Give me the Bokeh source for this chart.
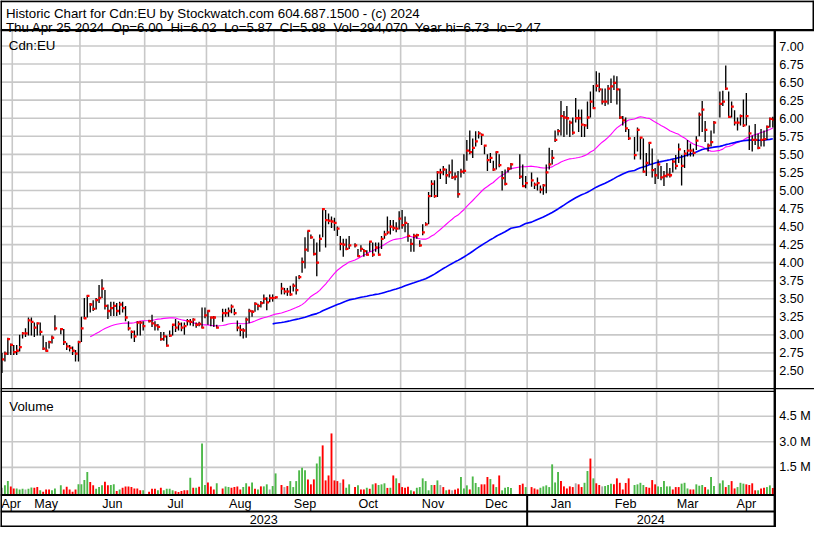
import numpy as np
import pandas as pd
from bokeh.plotting import figure
from bokeh.models import Range1d
from bokeh.embed import file_html
from bokeh.resources import INLINE
from bokeh.core.properties import value

# ---------------- data ----------------
FIRST_DAY = "2023-04-25"
LAST_DAY = "2024-04-25"
HOLIDAYS = ["2023-05-22", "2023-07-03", "2023-08-07", "2023-09-04", "2023-10-09",
            "2023-12-25", "2023-12-26", "2024-01-01", "2024-02-19", "2024-03-29"]

close = [
    2.66, 2.74, 2.94, 2.86,
    2.76, 2.78, 2.83, 3.02, 3.02, 3.20, 3.18, 3.10, 3.16, 3.04, 2.81, 2.78, 2.90, 2.96, 3.09, 3.08, 2.90, 2.84, 2.82, 2.78, 2.74, 2.90,
    3.09, 3.23, 3.54, 3.42, 3.36, 3.48, 3.51, 3.64, 3.40, 3.33, 3.37, 3.40, 3.33, 3.42, 3.37, 3.24, 3.09, 3.04, 2.98, 3.17, 3.17, 3.12,
    3.19, 3.16, 3.13, 3.11, 2.94, 2.98, 2.85, 2.99, 3.14, 3.10, 3.15, 3.10, 3.12, 3.19, 3.18, 3.21, 3.14, 3.15, 3.10, 3.27,
    3.33, 3.24, 3.24, 3.10, 3.30, 3.30, 3.33, 3.39, 3.30, 3.10, 3.07, 3.06, 3.21, 3.33, 3.32, 3.43, 3.40, 3.44, 3.50, 3.45, 3.51, 3.51,
    3.52, 3.64, 3.60, 3.60, 3.56, 3.68, 3.62, 3.80, 4.01, 4.18, 4.44, 4.35, 4.12, 4.00, 4.33, 4.74, 4.59, 4.58, 4.57, 4.55,
    4.47, 4.26, 4.25, 4.19, 4.24, 4.24, 4.09, 4.19, 4.16, 4.11, 4.29, 4.11, 4.21, 4.11, 4.33, 4.39, 4.42, 4.50, 4.48, 4.47, 4.61,
    4.52, 4.55, 4.37, 4.26, 4.37, 4.38, 4.24, 4.42, 4.53, 4.92, 5.09, 4.92, 5.25, 5.25, 5.29, 5.21, 5.25, 5.18, 5.19, 4.95, 5.26, 5.27,
    5.55, 5.53, 5.59, 5.68, 5.79, 5.77, 5.62, 5.42, 5.45, 5.29, 5.53, 5.35, 5.17, 5.09, 5.30, 5.36, 5.19, 5.06, 5.10,
    5.14, 5.08, 5.10, 5.01, 5.07, 5.25, 5.36, 5.45, 5.70, 5.82, 6.03, 6.01, 6.00, 5.94, 5.80, 6.00, 6.00, 5.91, 5.90, 6.01, 6.23, 6.14,
    6.45, 6.40, 6.23, 6.23, 6.41, 6.44, 6.49, 6.40, 6.01, 5.97, 5.86, 5.72, 5.49, 5.84, 5.73, 5.26, 5.38, 5.66, 5.28, 5.21,
    5.36, 5.18, 5.20, 5.22, 5.21, 5.40, 5.34, 5.57, 5.34, 5.51, 5.55, 5.55, 5.52, 5.69, 6.05, 6.12, 5.84, 5.62, 5.67, 5.94,
    6.20, 6.23, 6.41, 6.02, 6.16, 5.94, 5.94, 6.03, 5.90, 6.03, 5.79, 5.70, 5.70, 5.59, 5.70, 5.71, 5.88, 5.99, 5.98,
]
high = [
    2.75, 2.77, 2.96, 2.88,
    2.86, 2.86, 3.00, 3.04, 3.09, 3.24, 3.24, 3.17, 3.17, 3.17, 2.99, 2.90, 2.92, 2.99, 3.27, 3.09, 3.08, 2.89, 2.86, 2.84, 2.79, 2.92,
    3.25, 3.51, 3.55, 3.44, 3.48, 3.51, 3.69, 3.77, 3.62, 3.42, 3.46, 3.46, 3.44, 3.46, 3.46, 3.40, 3.19, 3.06, 3.06, 3.19, 3.19, 3.19,
    3.21, 3.28, 3.19, 3.15, 3.04, 3.04, 2.99, 3.06, 3.15, 3.22, 3.19, 3.17, 3.17, 3.22, 3.22, 3.23, 3.17, 3.18, 3.38, 3.38,
    3.34, 3.25, 3.26, 3.14, 3.36, 3.36, 3.38, 3.42, 3.36, 3.20, 3.14, 3.09, 3.24, 3.36, 3.34, 3.45, 3.43, 3.47, 3.56, 3.52, 3.56, 3.56,
    3.53, 3.72, 3.65, 3.65, 3.68, 3.71, 3.81, 3.83, 4.07, 4.35, 4.44, 4.39, 4.33, 4.28, 4.39, 4.75, 4.73, 4.68, 4.64, 4.62,
    4.50, 4.37, 4.33, 4.33, 4.37, 4.27, 4.19, 4.24, 4.19, 4.17, 4.30, 4.28, 4.28, 4.28, 4.37, 4.44, 4.64, 4.59, 4.59, 4.56, 4.71,
    4.73, 4.64, 4.55, 4.33, 4.40, 4.40, 4.31, 4.53, 4.56, 4.98, 5.14, 5.14, 5.27, 5.30, 5.34, 5.30, 5.36, 5.43, 5.25, 5.27, 5.30, 5.50,
    5.70, 5.83, 5.72, 5.82, 5.82, 5.79, 5.63, 5.50, 5.52, 5.41, 5.54, 5.50, 5.27, 5.29, 5.32, 5.38, 5.50, 5.36, 5.20,
    5.25, 5.11, 5.18, 5.07, 5.09, 5.36, 5.59, 5.56, 5.83, 5.85, 6.24, 6.10, 6.17, 5.97, 6.01, 6.28, 6.12, 6.12, 5.92, 6.23, 6.37, 6.46,
    6.65, 6.63, 6.41, 6.41, 6.46, 6.55, 6.59, 6.58, 6.41, 6.03, 6.01, 5.85, 5.74, 5.87, 5.74, 5.72, 5.52, 5.67, 5.58, 5.31,
    5.43, 5.34, 5.27, 5.38, 5.31, 5.43, 5.49, 5.65, 5.49, 5.56, 5.70, 5.65, 5.58, 5.75, 6.08, 6.24, 5.96, 5.65, 5.83, 5.96,
    6.37, 6.38, 6.73, 6.37, 6.23, 6.11, 6.01, 6.05, 6.26, 6.35, 5.90, 5.76, 5.92, 5.79, 5.85, 5.83, 5.90, 6.01, 6.02,
]
low = [
    2.47, 2.63, 2.72, 2.72,
    2.72, 2.72, 2.77, 2.95, 2.97, 2.99, 2.99, 2.97, 2.99, 2.99, 2.79, 2.77, 2.81, 2.88, 3.06, 3.01, 2.86, 2.79, 2.77, 2.72, 2.63, 2.63,
    2.90, 3.22, 3.24, 3.31, 3.33, 3.35, 3.44, 3.51, 3.35, 3.22, 3.26, 3.26, 3.26, 3.28, 3.31, 3.19, 3.06, 2.95, 2.90, 2.99, 2.99, 3.06,
    3.17, 3.11, 3.06, 3.06, 2.92, 2.92, 2.84, 2.97, 2.99, 3.04, 3.06, 3.05, 3.00, 3.13, 3.13, 3.12, 3.10, 3.12, 3.09, 3.23,
    3.14, 3.12, 3.11, 3.09, 3.18, 3.25, 3.25, 3.30, 3.27, 3.05, 2.98, 2.95, 2.96, 3.16, 3.25, 3.32, 3.34, 3.38, 3.43, 3.34, 3.45, 3.46,
    3.50, 3.56, 3.56, 3.54, 3.54, 3.60, 3.56, 3.77, 3.86, 3.92, 4.15, 4.33, 4.10, 3.81, 4.15, 4.35, 4.21, 4.53, 4.48, 4.44,
    4.37, 4.17, 4.08, 4.17, 4.19, 4.21, 4.08, 4.15, 4.08, 4.10, 4.15, 4.08, 4.15, 4.10, 4.19, 4.33, 4.39, 4.39, 4.44, 4.42, 4.46,
    4.47, 4.42, 4.29, 4.15, 4.15, 4.33, 4.22, 4.38, 4.51, 4.53, 4.91, 4.90, 4.91, 5.16, 5.21, 5.09, 5.18, 5.16, 5.14, 4.90, 5.18, 5.23,
    5.41, 5.50, 5.45, 5.61, 5.72, 5.63, 5.50, 5.27, 5.38, 5.27, 5.29, 5.32, 5.00, 5.07, 5.25, 5.29, 5.16, 5.05, 5.03,
    5.05, 5.02, 5.00, 4.96, 4.94, 4.96, 5.29, 5.36, 5.67, 5.76, 5.76, 5.74, 5.77, 5.74, 5.77, 5.94, 5.81, 5.74, 5.74, 5.85, 6.01, 6.13,
    6.37, 6.36, 6.19, 6.17, 6.19, 6.21, 6.39, 6.19, 5.99, 5.90, 5.81, 5.70, 5.43, 5.54, 5.43, 5.25, 5.20, 5.36, 5.18, 5.09,
    5.16, 5.14, 5.06, 5.18, 5.18, 5.25, 5.29, 5.38, 5.07, 5.31, 5.47, 5.47, 5.47, 5.56, 5.75, 5.81, 5.67, 5.54, 5.61, 5.79,
    6.01, 6.17, 6.39, 6.01, 6.01, 5.90, 5.83, 5.90, 5.88, 5.90, 5.56, 5.54, 5.63, 5.57, 5.61, 5.61, 5.70, 5.87, 5.87,
]
volume_m = [
    0.31, 0.45, 0.70, 0.39,
    0.27, 0.27, 0.21, 0.25, 0.21, 0.25, 0.33, 0.31, 0.35, 0.16, 0.08, 0.21, 0.21, 0.16, 0.27, 0.45, 0.21, 0.37, 0.21, 0.08, 0.21, 0.51,
    0.51, 0.76, 1.23, 0.64, 0.45, 0.25, 0.35, 0.45, 0.66, 0.45, 0.47, 0.51, 0.12, 0.21, 0.31, 0.39, 0.39, 0.35, 0.27, 0.27, 0.16, 0.16,
    0.08, 0.25, 0.25, 0.16, 0.31, 0.16, 0.25, 0.25, 0.16, 0.10, 0.06, 0.12, 0.16, 0.16, 0.90, 0.31, 0.31, 0.37, 2.90, 0.47,
    0.62, 0.39, 0.21, 0.57, 0.27, 0.39, 0.35, 0.31, 0.35, 0.39, 0.21, 0.35, 0.57, 0.39, 0.62, 0.25, 0.21, 0.39, 0.39, 0.51, 0.21, 0.41,
    1.15, 0.47, 0.35, 0.41, 0.70, 0.35, 0.70, 1.33, 1.48, 1.33, 0.80, 0.51, 0.80, 1.73, 2.14, 2.79, 0.74, 1.03, 3.49, 0.74,
    0.70, 0.60, 0.80, 0.31, 0.51, 0.35, 0.45, 0.21, 0.21, 0.31, 0.25, 0.51, 0.57, 0.47, 0.51, 0.57, 0.30, 0.31, 1.03, 0.86, 0.58,
    0.35, 0.31, 0.37, 0.16, 0.10, 0.31, 0.35, 0.86, 0.70, 0.16, 0.47, 0.47, 0.74, 0.47, 0.35, 0.16, 0.20, 0.16, 0.20, 0.27, 0.94, 0.27,
    0.45, 0.21, 0.97, 0.59, 0.35, 0.51, 0.51, 0.94, 0.82, 0.51, 0.35, 1.03, 0.16, 0.31, 0.35, 0.30, 0.47, 0.55, 0.35,
    0.35, 0.27, 0.21, 0.31, 0.39, 0.45, 0.35, 1.68, 0.62, 1.23, 0.70, 0.39, 0.27, 0.39, 0.35, 0.57, 0.51, 0.35, 0.60, 1.29, 2.02, 0.86,
    0.57, 0.47, 0.39, 0.41, 0.47, 0.55, 0.51, 0.86, 0.60, 0.21, 0.59, 0.86, 0.47, 0.51, 0.60, 0.47, 0.35, 0.31, 0.76, 0.51,
    0.39, 0.35, 0.70, 0.39, 0.39, 0.21, 0.35, 0.35, 0.55, 0.60, 0.27, 0.21, 0.21, 0.51, 0.43, 0.47, 0.35, 0.21, 0.94, 0.41,
    0.57, 0.74, 0.35, 0.47, 0.70, 0.27, 0.35, 0.60, 0.55, 0.51, 0.47, 0.57, 0.16, 0.16, 0.27, 0.31, 0.35, 0.45, 0.294,
]
# volume bar colour code per day: g = up, r = down, n = unchanged
vol_dir = ("nggr"
           "rgggnggrrgrrrgggrrrrrg"
           "gggrrgggrrggrgrrrrrrrg"
           "rrrgrggggrrrrrgrgrgg"
           "rrrgrggrrrrggrgrgrggng"
           "grnrggggggrrrggrrrrr"
           "rnrggrgrrgrgrgggrgrgr"
           "rrrgrggggggrgnrgrnrrgg"
           "grgggrrrgrgrggggrrg"
           "rrrgggggggrrrrrnrrggrg"
           "rrngggrrrrrrggggrrrr"
           "gggggrrrgggrrgggrggg"
           "ggrgrrgggrrrrgrrggr")

price_ticks = [2.50, 2.75, 3.00, 3.25, 3.50, 3.75, 4.00, 4.25, 4.50, 4.75,
               5.00, 5.25, 5.50, 5.75, 6.00, 6.25, 6.50, 6.75, 7.00]
price_tick_labels = ["%.2f" % t for t in price_ticks]
vol_ticks = [1.5e6, 3.0e6, 4.5e6]
vol_tick_labels = ["1.5 M", "3.0 M", "4.5 M"]
MA_SHORT, MA_LONG = 30, 90
header_line1 = "Historic Chart for Cdn:EU by Stockwatch.com 604.687.1500 - (c) 2024"
header_fields = ["Thu Apr 25 2024", "Op=6.00", "Hi=6.02", "Lo=5.87", "Cl=5.98",
                 "Vol=294,070", "Year hi=6.73", "lo=2.47"]
symbol_label = "Cdn:EU"
volume_label = "Volume"

# ---------------- layout (reference pixel space 830 x 543) ----------------
W_REF, H_REF = 830, 543
FIG_W, FIG_H = 814, 527
SLOT0, SLOT_PX = 1.5, 3.0          # x of first weekday slot, px per weekday
P7_Y, P_PX = 46.9, 74.4            # y of price 7.00, px per 1.00
V0_Y, V_PX = 507.5, 17.6e-6        # y of zero volume, px per share
HEAD_Y = 30.5
PRICE_TOP, PRICE_BOT = 31.5, 400.0
VOL_TOP, VOL_BOT = 402.7, 509.5
YEAR_LINE = 526.5
RIGHT_X = 789.5
FONT = value("Liberation Sans")
FS_HEAD = value("13.3px")
FS_AXIS = value("12.6px")
GRID = "#c8c8c8"
GREEN, RED, GREY = "#4cb848", "#ff0000", "#a8a8a8"

# ---------------- derived ----------------
wd = pd.bdate_range(FIRST_DAY, LAST_DAY)
slot = np.arange(len(wd))
keep = ~wd.isin(pd.to_datetime(HOLIDAYS))
xs = slot[keep].astype(float)
n = len(xs)
lens = (n, len(close), len(high), len(low), len(volume_m), len(vol_dir))
if len(set(lens)) != 1:
    raise SystemExit("length mismatch %s" % (lens,))

cl = pd.Series(close)
ma_s = cl.rolling(MA_SHORT).mean()
ma_l = cl.rolling(MA_LONG).mean()

months = pd.PeriodIndex(wd, freq="M")
first_slot = {}
for i, m in enumerate(months):
    first_slot.setdefault(m, i)
mlist = list(first_slot.keys())
bounds = [first_slot[m] - 0.5 for m in mlist] + [len(wd) - 0.5]
x_right = bounds[-1]
grid_x = bounds[1:-1]
mcenters = [(bounds[k] + bounds[k + 1]) / 2 for k in range(len(mlist))]
mcenters[0] = max(mcenters[0], bounds[0] + 3.6)   # keep the first label inside the frame
mnames = [m.strftime("%b") for m in mlist]
years = sorted(set(m.year for m in mlist))
ybounds = []
for y in years:
    ks = [k for k, m in enumerate(mlist) if m.year == y]
    ybounds.append((bounds[ks[0]], bounds[ks[-1] + 1]))
ycenters = [(a + b) / 2 for a, b in ybounds]
ysep = [b for a, b in ybounds[:-1]]

xr = Range1d((0 - SLOT0) / SLOT_PX, (W_REF - SLOT0) / SLOT_PX)
yr = Range1d(7 - (H_REF - P7_Y) / P_PX, 7 + P7_Y / P_PX)

p = figure(width=FIG_W, height=FIG_H, x_range=xr, y_range=yr,
           output_backend="svg", toolbar_location=None, min_border=0,
           x_axis_location=None, y_axis_location=None,
           background_fill_color="white", border_fill_color="white",
           outline_line_color=None)
p.grid.visible = False
p.extra_x_ranges = {"px": Range1d(0, W_REF)}
p.extra_y_ranges = {"py": Range1d(H_REF, 0),
                    "vol": Range1d(-(H_REF - V0_Y) / V_PX, V0_Y / V_PX)}

# grid lines
p.segment(x0=-0.5, x1=x_right, y0=price_ticks, y1=price_ticks, line_color=GRID, line_width=1.6)
p.segment(x0=grid_x, x1=grid_x, y0=PRICE_TOP, y1=PRICE_BOT, y_range_name="py",
          line_color=GRID, line_width=1.6)
p.segment(x0=-0.5, x1=x_right, y0=vol_ticks, y1=vol_ticks, y_range_name="vol",
          line_color=GRID, line_width=1.6)
p.segment(x0=grid_x, x1=grid_x, y0=VOL_TOP, y1=VOL_BOT, y_range_name="py",
          line_color=GRID, line_width=1.6)

# volume
cmap = {"g": GREEN, "r": RED, "n": GREY}
vcol = [cmap[c] for c in vol_dir]
vol = [v * 1e6 for v in volume_m]
p.vbar(x=xs, top=vol, bottom=-0.08e6, width=0.64, fill_color=vcol, line_color=None,
       y_range_name="vol")

# moving averages
p.line(xs[MA_SHORT - 1:], ma_s.values[MA_SHORT - 1:], line_color="#ff00ff", line_width=1.1)
p.line(xs[MA_LONG - 1:], ma_l.values[MA_LONG - 1:], line_color="#0000ff", line_width=1.6)

# price bars
p.segment(x0=xs, x1=xs, y0=low, y1=high, line_color="black", line_width=1.35)
p.segment(x0=xs - 0.2, x1=xs + 0.75, y0=close, y1=close, line_color=RED, line_width=2.3)

# frame / borders (reference pixel space)
def seg(x0, y0, x1, y1, w=2):
    p.segment(x0=x0, y0=y0, x1=x1, y1=y1, x_range_name="px", y_range_name="py",
              line_color="black", line_width=w)

seg([0.5], [0], [0.5], [H_REF], w=2)                 # left edge
seg([0], [0.8], [W_REF], [0.8], w=2)                 # top of header box
seg([W_REF - 1], [0], [W_REF - 1], [HEAD_Y], w=2)    # right edge of header box
seg([0], [HEAD_Y], [W_REF], [HEAD_Y], w=2.2)         # header bottom
seg([RIGHT_X], [HEAD_Y], [RIGHT_X], [H_REF], w=2.4)  # right edge of plot area
seg([0], [PRICE_BOT], [W_REF], [PRICE_BOT], w=1.2)   # double line between panels
seg([0], [VOL_TOP], [RIGHT_X], [VOL_TOP], w=1.2)
seg([0], [VOL_BOT], [RIGHT_X], [VOL_BOT], w=2.2)     # volume panel bottom
seg([0], [YEAR_LINE], [RIGHT_X], [YEAR_LINE], w=2.2) # month / year rows
seg([0], [H_REF - 1], [RIGHT_X], [H_REF - 1], w=2)   # bottom edge
p.segment(x0=ysep, x1=ysep, y0=VOL_BOT, y1=H_REF, y_range_name="py",
          line_color="black", line_width=2)

# texts
def txt(x, y, t, fs, align="left", base="alphabetic", xr_name="px", yr_name="py"):
    kw = {}
    if xr_name:
        kw["x_range_name"] = xr_name
    if yr_name:
        kw["y_range_name"] = yr_name
    p.text(x=x, y=y, text=t, text_font=FONT, text_font_size=fs, text_color="black",
           text_align=align, text_baseline=base, **kw)

txt([5.5], [13.6], [header_line1], FS_HEAD)
txt([5.5], [27.6], ["\u00a0 ".join(header_fields)], FS_HEAD)
txt([8.5], [46.5], [symbol_label], FS_HEAD)
txt([9], [418.5], [volume_label], FS_HEAD)
txt([794] * len(price_ticks), price_ticks, price_tick_labels, FS_AXIS, base="middle", yr_name=None)
txt([794] * len(vol_ticks), vol_ticks, vol_tick_labels, FS_AXIS, base="middle", yr_name="vol")
txt(mcenters, [518.5] * len(mcenters), mnames, FS_AXIS, align="center", base="middle", xr_name=None)
txt(ycenters, [535] * len(ycenters), [str(y) for y in years], FS_AXIS, align="center",
    base="middle", xr_name=None)

open("out.html", "w").write(file_html(p, INLINE))
